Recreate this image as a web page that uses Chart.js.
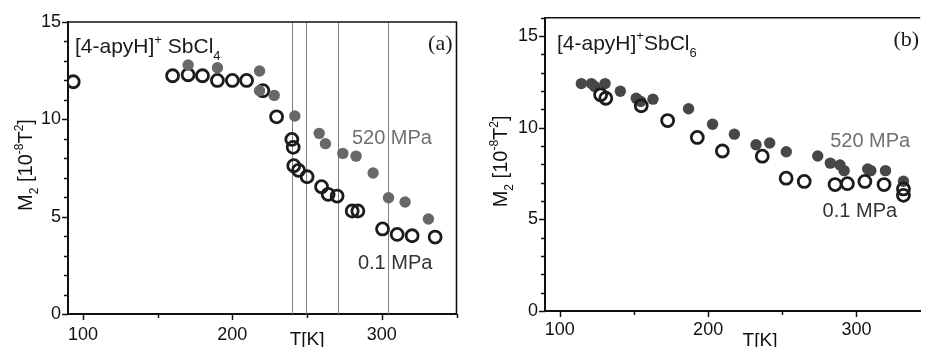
<!DOCTYPE html>
<html>
<head>
<meta charset="utf-8">
<script src="https://cdn.jsdelivr.net/npm/chart.js@4.4.1/dist/chart.umd.min.js"></script>
<style>
  html, body { margin: 0; padding: 0; background: #fff; }
  #wrap { position: relative; width: 929px; height: 347px; overflow: hidden; }
  canvas { position: absolute; top: 0; }
  #cA { left: 0; }
  #cB { left: 470px; }
</style>
</head>
<body>
<div id="wrap">
  <canvas id="cA" width="470" height="347"></canvas>
  <canvas id="cB" width="459" height="347"></canvas>
</div>
<script>
// (a) [4-apyH]+ SbCl4 : T [K] and M2 [1e-8 T^2]
const tempA_01 = [93.5, 160, 170.4, 180, 190, 200, 209.5, 220.4, 229.6, 239.8, 240.7, 241.1, 244.3, 250, 259.7, 264.1, 270.1, 280.2, 284, 300.5, 310.3, 320.3, 335.7];
const m2A_01   = [11.93, 12.24, 12.29, 12.24, 12.0, 12.0, 12.0, 11.47, 10.13, 8.97, 8.56, 7.62, 7.38, 7.05, 6.54, 6.15, 6.06, 5.29, 5.29, 4.37, 4.09, 4.02, 3.95];
const tempA_520 = [170.4, 190, 218.2, 218.2, 228, 241.8, 258.1, 262.3, 273.9, 282.8, 294.2, 304.5, 315.6, 331.2];
const m2A_520   = [12.79, 12.65, 12.48, 11.47, 11.23, 10.17, 9.28, 8.75, 8.25, 8.11, 7.24, 5.97, 5.75, 4.88];
const transitionsA = [240, 249, 271, 304];

// (b) [4-apyH]+ SbCl6
const tempB_01 = [127.5, 131, 154.9, 172.7, 192.7, 209.6, 236.5, 252.6, 264.8, 285.6, 293.9, 305.7, 318.6, 331.7, 331.7];
const m2B_01   = [11.8, 11.61, 11.2, 10.39, 9.47, 8.73, 8.45, 7.25, 7.07, 6.9, 6.95, 7.07, 6.9, 6.66, 6.31];
const tempB_520 = [114.5, 121.3, 123.5, 130.5, 140.8, 151.5, 154.5, 162.8, 186.8, 203, 217.7, 232.3, 241.5, 252.7, 273.9, 282.4, 288.9, 291.7, 307.6, 309.7, 319.6, 331.7];
const m2B_520   = [12.41, 12.41, 12.25, 12.41, 11.99, 11.61, 11.44, 11.56, 11.04, 10.19, 9.65, 9.07, 9.17, 8.69, 8.46, 8.07, 7.97, 7.66, 7.75, 7.66, 7.66, 7.08];

const xTicks = [100, 150, 200, 250, 300, 350];
const yTicksA = [0, 1, 2, 3, 4, 5, 6, 7, 8, 9, 10, 11, 12, 13, 14, 15];
const yTicksB = [0, 1, 2, 3, 4, 5, 6, 7, 8, 9, 10, 11, 12, 13, 14, 15, 16];

const SANS = '"Liberation Sans", Arial, sans-serif';
const SERIF = '"Liberation Serif", "Times New Roman", serif';

function pts(xs, ys) {
  return xs.map((x, i) => ({x: x, y: ys[i]}));
}

// text with super/subscripts, parts = [[text, 'n'|'sup'|'sub'], ...]
function rich(ctx, parts, x, y, size, align) {
  const fontOf = k => (k === 'n' ? size : Math.round(size * 0.62)) + 'px ' + SANS;
  let w = 0;
  for (const [t, k] of parts) { ctx.font = fontOf(k); w += ctx.measureText(t).width; }
  let cx = align === 'center' ? x - w / 2 : x;
  ctx.textAlign = 'left';
  ctx.textBaseline = 'alphabetic';
  for (const [t, k] of parts) {
    ctx.font = fontOf(k);
    const dy = k === 'sup' ? -size * 0.45 : k === 'sub' ? size * 0.32 : 0;
    ctx.fillText(t, cx, y + dy);
    cx += ctx.measureText(t).width;
  }
}

const yTitle = [['M', 'n'], ['2', 'sub'], [' [10', 'n'], ['-8', 'sup'], ['T', 'n'], ['2', 'sup'], [']', 'n']];

function deco(p) {
  return {
    id: 'deco' + p.tag,
    beforeDatasetsDraw(chart) {
      const {ctx, chartArea: a, scales: {x}} = chart;
      ctx.save();
      ctx.strokeStyle = '#808080';
      ctx.lineWidth = 1;
      for (const t of p.lines) {
        const px = Math.round(x.getPixelForValue(t)) + 0.5;
        ctx.beginPath();
        ctx.moveTo(px, a.top);
        ctx.lineTo(px, a.bottom);
        ctx.stroke();
      }
      ctx.restore();
    },
    afterDraw(chart) {
      const {ctx, chartArea: a, scales: {x, y}} = chart;
      ctx.save();
      ctx.strokeStyle = '#111';
      ctx.lineWidth = 1.6;
      ctx.beginPath();
      ctx.moveTo(a.left, a.top);
      ctx.lineTo(a.right, a.top);
      if (p.rightFrame) ctx.lineTo(a.right, a.bottom);
      ctx.stroke();

      // outward ticks, long on labelled values
      ctx.lineWidth = 1.5;
      for (const t of x.ticks) {
        if (t.value > x.max) continue;
        const px = Math.round(x.getPixelForValue(t.value)) + 0.5;
        const len = t.value % 100 === 0 ? 6 : 4;
        ctx.beginPath();
        ctx.moveTo(px, a.bottom);
        ctx.lineTo(px, a.bottom + len);
        ctx.stroke();
      }
      for (const t of y.ticks) {
        const py = Math.round(y.getPixelForValue(t.value)) + 0.5;
        const len = t.value % 5 === 0 ? 6 : 4;
        ctx.beginPath();
        ctx.moveTo(a.left, py);
        ctx.lineTo(a.left - len, py);
        ctx.stroke();
      }

      ctx.fillStyle = '#1a1a1a';
      rich(ctx, p.compound, a.left + p.compoundDx, a.top + p.compoundDy, 21, 'left');

      ctx.font = '22px ' + SERIF;
      ctx.textAlign = 'right';
      ctx.fillText(p.tag, a.right - p.tagDx, a.top + 28);

      ctx.font = '20px ' + SANS;
      ctx.textAlign = 'left';
      ctx.fillStyle = '#707070';
      ctx.fillText('520 MPa', x.getPixelForValue(p.hiLabel[0]), y.getPixelForValue(p.hiLabel[1]));
      ctx.fillStyle = '#333';
      ctx.fillText('0.1 MPa', x.getPixelForValue(p.loLabel[0]), y.getPixelForValue(p.loLabel[1]));

      ctx.fillStyle = '#111';
      ctx.font = '19px ' + SANS;
      ctx.textAlign = 'center';
      ctx.fillText('T[K]', x.getPixelForValue(p.tkAt), a.bottom + p.tkDy);

      ctx.translate(a.left - p.titleDx, (a.top + a.bottom) / 2 - 3);
      ctx.rotate(-Math.PI / 2);
      rich(ctx, yTitle, 0, 0, 20, 'center');
      ctx.restore();
    }
  };
}

function makePanel(p) {
  const tickFont = {size: 18, family: SANS};
  return new Chart(document.getElementById(p.canvas), {
    type: 'scatter',
    data: {
      datasets: [
        {
          label: '0.1 MPa',
          data: pts(p.open[0], p.open[1]),
          pointRadius: 6,
          pointBorderWidth: 2.8,
          pointBorderColor: '#1c1c1c',
          pointBackgroundColor: 'rgba(255,255,255,0)',
          order: p.openOrder
        },
        {
          label: '520 MPa',
          data: pts(p.filled[0], p.filled[1]),
          pointRadius: 5.7,
          pointBorderWidth: 0,
          pointBorderColor: p.filledColor,
          pointBackgroundColor: p.filledColor,
          order: 2
        }
      ]
    },
    options: {
      responsive: false,
      animation: false,
      events: [],
      layout: {padding: {left: 0, top: p.top, right: p.padRight, bottom: 0}},
      plugins: {legend: {display: false}, tooltip: {enabled: false}},
      scales: {
        x: {
          type: 'linear',
          min: 90,
          max: p.xMax,
          afterBuildTicks: s => { s.ticks = xTicks.filter(v => v <= p.xMax).map(v => ({value: v})); },
          afterFit: s => { s.height = p.xAxisH; },
          grid: {display: true, drawOnChartArea: false, drawTicks: false},
          border: {display: true, color: '#111', width: 2},
          ticks: {
            autoSkip: false, maxRotation: 0, padding: p.xPad, color: '#111', font: tickFont,
            callback: v => (v % 100 === 0 ? v : '')
          }
        },
        y: {
          type: 'linear',
          min: 0,
          max: p.yTicks[p.yTicks.length - 1],
          afterBuildTicks: s => { s.ticks = p.yTicks.map(v => ({value: v})); },
          afterFit: s => { s.width = p.yAxisW; },
          grid: {display: true, drawOnChartArea: false, drawTicks: false},
          border: {display: true, color: '#111', width: 2},
          ticks: {
            autoSkip: false, padding: 7, color: '#111', font: tickFont,
            callback: v => (v % 5 === 0 ? v : '')
          }
        }
      }
    },
    plugins: [deco(p)]
  });
}

makePanel({
  canvas: 'cA', tag: '(a)',
  open: [tempA_01, m2A_01], filled: [tempA_520, m2A_520],
  filledColor: '#686868', openOrder: 3,
  xMax: 350, yTicks: yTicksA, lines: transitionsA,
  top: 22, padRight: 13.5, yAxisW: 68, xAxisH: 33, xPad: 10,
  rightFrame: true, tagDx: 4,
  compound: [['[4-apyH]', 'n'], ['+', 'sup'], [' SbCl', 'n'], ['4', 'sub']],
  compoundDx: 7, compoundDy: 31,
  hiLabel: [280, 8.73], loLabel: [284, 2.31],
  tkAt: 250, tkDy: 31, titleDx: 36
});

makePanel({
  canvas: 'cB', tag: '(b)',
  open: [tempB_01, m2B_01], filled: [tempB_520, m2B_520],
  filledColor: '#474747', openOrder: 1,
  xMax: 343, yTicks: yTicksB, lines: [],
  top: 14.7, padRight: 0, yAxisW: 75, xAxisH: 36, xPad: 8,
  rightFrame: false, tagDx: 1,
  compound: [['[4-apyH]', 'n'], ['+', 'sup'], ['SbCl', 'n'], ['6', 'sub']],
  compoundDx: 12, compoundDy: 32,
  hiLabel: [282.3, 8.94], loLabel: [277.2, 5.15],
  tkAt: 235, tkDy: 35, titleDx: 38
});
</script>
</body>
</html>
